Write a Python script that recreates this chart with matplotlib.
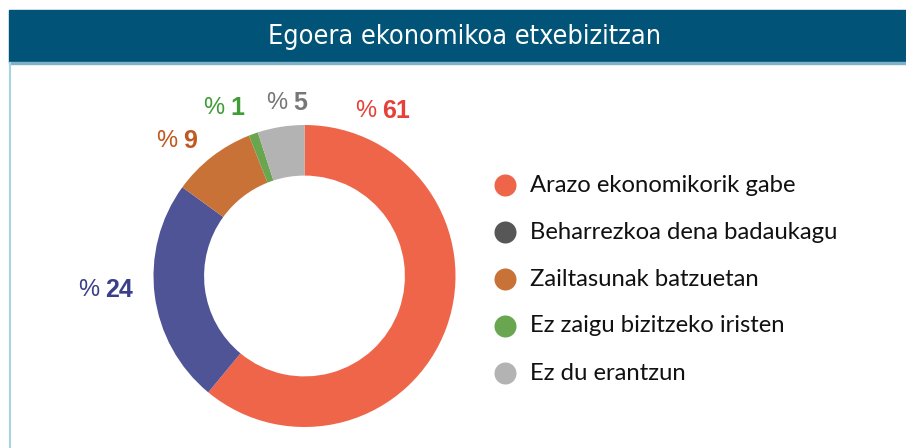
import matplotlib.pyplot as plt
from matplotlib.patches import Rectangle

# datos
categorias = ['Arazo ekonomikorik gabe', 'Beharrezkoa dena badaukagu',
              'Zailtasunak batzuetan', 'Ez zaigu bizitzeko iristen', 'Ez du erantzun']
valores_donut = [61, 24, 9, 1, 5]   # orden de los sectores (sentido horario desde arriba)
colores_donut = ['#ee654a', '#4f5497', '#c87237', '#6aa650', '#b3b3b3']
colores_etiqueta = ['#e5403a', '#3a3f8b', '#c0581f', '#3f9c36', '#777777']
colores_leyenda = ['#ee654a', '#575757', '#c87237', '#6aa650', '#b3b3b3']
titulo = 'Egoera ekonomikoa etxebizitzan'

W, H = 906, 448
fig = plt.figure(figsize=(W / 100, H / 100), dpi=100)
ax = fig.add_axes([0, 0, 1, 1])

# donut
cx, cy, R = 304.5, H - 276, 151
ax.pie(valores_donut, colors=colores_donut, startangle=90, counterclock=False,
       center=(cx, cy), radius=R, wedgeprops=dict(width=R * 0.335, linewidth=0),
       frame=True)
ax.set_xlim(0, W)
ax.set_ylim(0, H)
ax.set_aspect('equal')
ax.axis('off')

# cabecera
ax.add_patch(Rectangle((9, H - 62), W - 9, 52, color='#015478', zorder=1))
ax.add_patch(Rectangle((9, H - 64), W - 9, 2, color='#7fb2c9', zorder=1))
ax.plot([9.5, 9.5], [0, H - 63], color='#a9d2e2', lw=1.5, zorder=1)
ax.text(464, H - 37, titulo, color='white', fontsize=19.4,
        family='DejaVu Sans', stretch='condensed', ha='center', va='center')

# etiquetas
pos_etiquetas = [(355, 111), (78, 290), (156, 141), (203, 108), (266, 103)]
for v, c, (x, y) in zip(valores_donut, colores_etiqueta, pos_etiquetas):
    ax.text(x, H - y, '%', color=c, fontsize=17, family='Liberation Sans',
            ha='left', va='center')
    ax.text(x + 27, H - y, str(v), color=c, fontsize=18, fontweight='bold',
            family='Liberation Sans', ha='left', va='center')

# leyenda
for i, (lab, c) in enumerate(zip(categorias, colores_leyenda)):
    y = H - (185 + i * 47)
    ax.scatter([505], [y], s=22 ** 2 * 0.52, color=c, zorder=3, linewidths=0)
    ax.text(530, y, lab, fontsize=17.2, family='Lato', color='#111111',
            ha='left', va='center')

plt.savefig('out.png', dpi=100)
